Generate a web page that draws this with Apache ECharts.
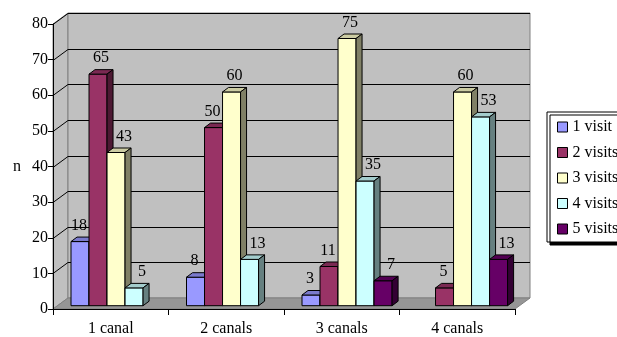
<!DOCTYPE html>
<html>
<head>
<meta charset="utf-8">
<script src="https://cdn.jsdelivr.net/npm/echarts@6/dist/echarts.min.js"></script>
<style>
  html, body { margin: 0; padding: 0; background: #fff; }
  #chart { width: 617px; height: 337px; }
</style>
</head>
<body>
<div id="chart"></div>
<script>
const categories = ['1 canal', '2 canals', '3 canals', '4 canals'];
const visit1 = [18, 8, 3, null];
const visit2 = [65, 50, 11, 5];
const visit3 = [43, 60, 75, 60];
const visit4 = [5, 13, 35, 53];
const visit5 = [null, null, 7, 13];
const seriesNames = ['1 visit', '2 visits', '3 visits', '4 visits', '5 visits'];
const yTicks = [0, 10, 20, 30, 40, 50, 60, 70, 80];

const allVisits = [visit1, visit2, visit3, visit4, visit5];
// front, top, side colours
const faces = [
    ['#9999FF', '#7A7ACC', '#4D4D80'],
    ['#993366', '#7A2952', '#4D1933'],
    ['#FFFFCC', '#CCCCA3', '#808066'],
    ['#CCFFFF', '#A3CCCC', '#668080'],
    ['#660066', '#520052', '#330033'],
];

const FONT = 'Liberation Serif';
const FS = 16;
const DX = 15, DY = -11;      // depth of the walls
const BX = 5.3, BY = -3.3;    // bars sit a bit inside
const BDX = 6, BDY = -4.5;    // depth of a bar

const chart = echarts.init(document.getElementById('chart'));

function renderWalls(params, api) {
    const cs = params.coordSys;
    const L = cs.x, R = cs.x + cs.width, T = cs.y, B = cs.y + cs.height;
    const children = [
        {type: 'polygon', shape: {points: [[L, B], [L + DX, B + DY], [L + DX, T + DY], [L, T]]},
            style: {fill: '#C0C0C0', stroke: '#808080', lineWidth: 1}},
        {type: 'rect', shape: {x: L + DX, y: T + DY, width: R - L, height: B - T},
            style: {fill: '#C0C0C0', stroke: '#808080', lineWidth: 1}},
        {type: 'polygon', shape: {points: [[L, B], [R, B], [R + DX, B + DY], [L + DX, B + DY]]},
            style: {fill: '#969696', stroke: '#808080', lineWidth: 1}},
    ];
    yTicks.forEach(function (v) {
        if (v === 0) return;
        const y = Math.round(api.coord([0, v])[1]) + 0.5;
        children.push({type: 'line', shape: {x1: L + DX, y1: y + DY, x2: R + DX, y2: y + DY},
            style: {stroke: '#000', lineWidth: 1}});
        children.push({type: 'line', shape: {x1: L, y1: y, x2: L + DX, y2: y + DY},
            style: {stroke: '#000', lineWidth: 1}});
    });
    return {type: 'group', children: children};
}

function renderBar(params, api) {
    const s = params.seriesIndex - 1;
    const cat = api.value(0);
    const v = api.value(1);
    const band = api.size([1, 0])[0];
    const w = band * 0.156;
    const base = api.coord([cat, 0]);
    const top = api.coord([cat, v]);
    const x0 = base[0] - 2.5 * w + BX + s * w;
    const yB = base[1] + BY;
    const yT = top[1] + BY;
    const c = faces[s];
    const line = {stroke: '#000', lineWidth: 1};

    // push the label away from a taller neighbour
    const prev = s > 0 ? allVisits[s - 1][cat] : null;
    const next = s < 4 ? allVisits[s + 1][cat] : null;
    let shift = 0;
    if (next != null && next > v) shift = -4;
    else if (prev != null && prev > v) shift = 5;

    return {
        type: 'group',
        children: [
            {type: 'rect', shape: {x: x0, y: yT, width: w, height: yB - yT},
                style: Object.assign({fill: c[0]}, line)},
            {type: 'polygon', shape: {points: [[x0, yT], [x0 + w, yT], [x0 + w + BDX, yT + BDY], [x0 + BDX, yT + BDY]]},
                style: Object.assign({fill: c[1]}, line)},
            {type: 'polygon', shape: {points: [[x0 + w, yT], [x0 + w + BDX, yT + BDY], [x0 + w + BDX, yB + BDY], [x0 + w, yB]]},
                style: Object.assign({fill: c[2]}, line)},
            {type: 'text', x: x0 + w / 2 + 3 + shift, y: yT - 16,
                style: {text: String(v), fill: '#000', font: FS + 'px "' + FONT + '"', align: 'center', verticalAlign: 'middle'}},
        ],
    };
}

const series = [{
    type: 'custom',
    name: 'walls',
    z: 1,
    silent: true,
    renderItem: renderWalls,
    data: [[0, 0]],
}];
allVisits.forEach(function (arr, i) {
    const data = [];
    arr.forEach(function (v, k) {
        if (v != null) data.push([k, v]);
    });
    series.push({
        type: 'custom',
        name: seriesNames[i],
        z: 2,
        itemStyle: {color: faces[i][0], borderColor: '#000', borderWidth: 1},
        renderItem: renderBar,
        data: data,
    });
});

const option = {
    animation: false,
    textStyle: {fontFamily: FONT, fontSize: FS, color: '#000'},
    grid: {left: 53, right: 102, top: 24, bottom: 27},
    legend: {
        orient: 'vertical',
        left: 547,
        top: 112,
        data: seriesNames,
        icon: 'rect',
        itemWidth: 10,
        itemHeight: 10,
        itemGap: 7.5,
        padding: [6, 10, 4, 10],
        backgroundColor: '#fff',
        borderColor: '#000',
        borderWidth: 1,
        shadowColor: '#000',
        shadowBlur: 0.1,
        shadowOffsetX: 3,
        shadowOffsetY: 3,
        itemStyle: {borderColor: '#000', borderWidth: 1},
        textStyle: {fontFamily: FONT, fontSize: FS, color: '#000', lineHeight: 18},
    },
    xAxis: {
        type: 'category',
        data: categories,
        z: 3,
        boundaryGap: true,
        axisLine: {show: true, lineStyle: {color: '#000', width: 1}},
        axisTick: {show: true, length: 6, lineStyle: {color: '#000'}},
        axisLabel: {margin: 12, fontFamily: FONT, fontSize: FS, color: '#000'},
        splitLine: {show: false},
    },
    yAxis: {
        type: 'value',
        min: 0,
        max: 80,
        interval: 10,
        z: 3,
        name: 'n',
        nameLocation: 'middle',
        nameRotate: 0,
        nameGap: 32,
        nameTextStyle: {fontFamily: FONT, fontSize: FS, color: '#000'},
        axisLine: {show: true, lineStyle: {color: '#000', width: 1}},
        axisTick: {show: true, length: 5, lineStyle: {color: '#000'}},
        axisLabel: {margin: 5, fontFamily: FONT, fontSize: FS, color: '#000'},
        splitLine: {show: false},
    },
    series: series,
};

chart.setOption(option);
</script>
</body>
</html>
